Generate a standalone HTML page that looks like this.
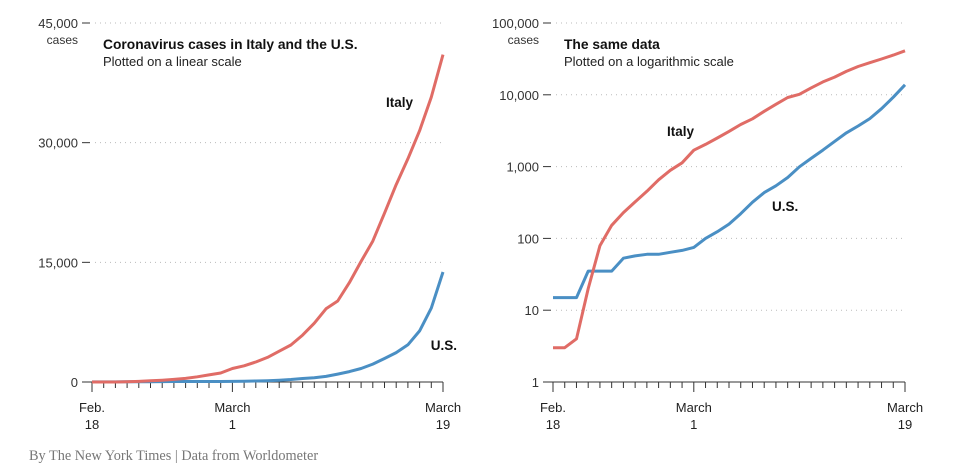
<!DOCTYPE html>
<html><head><meta charset="utf-8"><style>
body{margin:0;background:#fff;width:957px;height:475px;overflow:hidden;font-family:"Liberation Sans",sans-serif}
svg{display:block}
</style></head><body>
<svg id="c" width="957" height="475"></svg>
<script>
const days = ["Feb. 18","","","","","","","","","","","","March 1","","","","","","","","","","","","","","","","","","March 19"];
const italy = [3,3,4,20,79,152,229,322,453,655,888,1128,1694,2036,2502,3089,3858,4636,5883,7375,9172,10149,12462,15113,17660,21157,24747,27980,31506,35713,41035];
const us = [15,15,15,35,35,35,53,57,60,60,64,68,75,100,124,158,221,319,435,541,704,994,1301,1697,2247,2943,3680,4663,6411,9259,13789];
const linTicks = [0,15000,30000,45000];
const linLabels = ["0","15,000","30,000","45,000"];
const logTicks = [1,10,100,1000,10000,100000];
const logLabels = ["1","10","100","1,000","10,000","100,000"];
const majorIdx = [0,12,30];
const majorTop = ["Feb.","March","March"];
const majorBot = ["18","1","19"];

const NS="http://www.w3.org/2000/svg", svg=document.getElementById('c');
function mk(t,a,p){const e=document.createElementNS(NS,t);for(const k in a)e.setAttribute(k,a[k]);(p||svg).appendChild(e);return e;}
const Y0=382,Y1=23;
function panel(x0,x1,yFn,ticks,labels,name){
  const g=mk('g',{});
  
  
  const xs=i=>x0+(x1-x0)*i/(days.length-1);
  ticks.forEach((t,i)=>{
    const y=yFn(t);
    const gl=mk('line',{x1:x0+3,x2:x1,y1:y,y2:y,stroke:'#bbb','stroke-width':1,'stroke-dasharray':'1 4'},g);
    
    
    mk('line',{x1:x0-10,x2:x0-2,y1:y,y2:y,stroke:'#333','stroke-width':1},g);
    const tx=mk('text',{x:x0-14,y:y+5,'text-anchor':'end','font-size':13,fill:'#333'},g);
    tx.textContent=labels[i];
    
    
  });
  const c=mk('text',{x:x0-14,y:Y1+21,'text-anchor':'end','font-size':12,fill:'#333'},g);c.textContent='cases';
  
  
  mk('line',{x1:x0-10,x2:x1,y1:Y0,y2:Y0,stroke:'#333','stroke-width':1},g);
  days.forEach((d,i)=>{const x=xs(i);const maj=majorIdx.includes(i);
    mk('line',{x1:x,x2:x,y1:Y0,y2:Y0+(maj?10:6),stroke:'#333','stroke-width':1},g);});
  majorIdx.forEach((i,k)=>{const x=xs(i);
    const a=mk('text',{x:x,y:Y0+30,'text-anchor':'middle','font-size':13,fill:'#222'},g);a.textContent=majorTop[k];
    
    
    const b=mk('text',{x:x,y:Y0+47,'text-anchor':'middle','font-size':13,fill:'#222'},g);b.textContent=majorBot[k];
    
    });
  [[us,'#4a8fc4','us'],[italy,'#e06c66','italy']].forEach(([s,col,n])=>{
    const p=mk('path',{d:s.map((v,i)=>(i?'L':'M')+xs(i).toFixed(1)+','+yFn(v).toFixed(1)).join(''),fill:'none',stroke:col,'stroke-width':3,'stroke-linejoin':'round'},g);
    
    
  });
  return g;
}
const lin=v=>Y0-(Y0-Y1)*v/45000;
const lg=v=>Y0-(Y0-Y1)*Math.log10(v)/5;
panel(92,443,lin,linTicks,linLabels,'linear');
panel(553,905,lg,logTicks,logLabels,'log');
function txt(x,y,s,sz,w,col,name,anchor){const t=mk('text',{x:x,y:y,'font-size':sz,'font-weight':w,fill:col,'text-anchor':anchor||'start'});t.textContent=s;
  
  }
txt(103,49,'Coronavirus cases in Italy and the U.S.',13.8,'bold','#111','left-title');
txt(103,66,'Plotted on a linear scale',13,'normal','#222','left-subtitle');
txt(564,49,'The same data',13.8,'bold','#111','right-title');
txt(564,66,'Plotted on a logarithmic scale',13,'normal','#222','right-subtitle');
txt(413,107,'Italy',13.5,'bold','#111','italy-label','end');
txt(457,350,'U.S.',13.5,'bold','#111','us-label','end');
txt(667,136,'Italy',13.5,'bold','#111','italy-log-label');
txt(772,211,'U.S.',13.5,'bold','#111','us-log-label');
const f=mk('text',{x:29,y:460,'font-size':14.3,fill:'#777','font-family':'Liberation Serif, serif'});f.textContent='By The New York Times | Data from Worldometer';


</script>
</body></html>
